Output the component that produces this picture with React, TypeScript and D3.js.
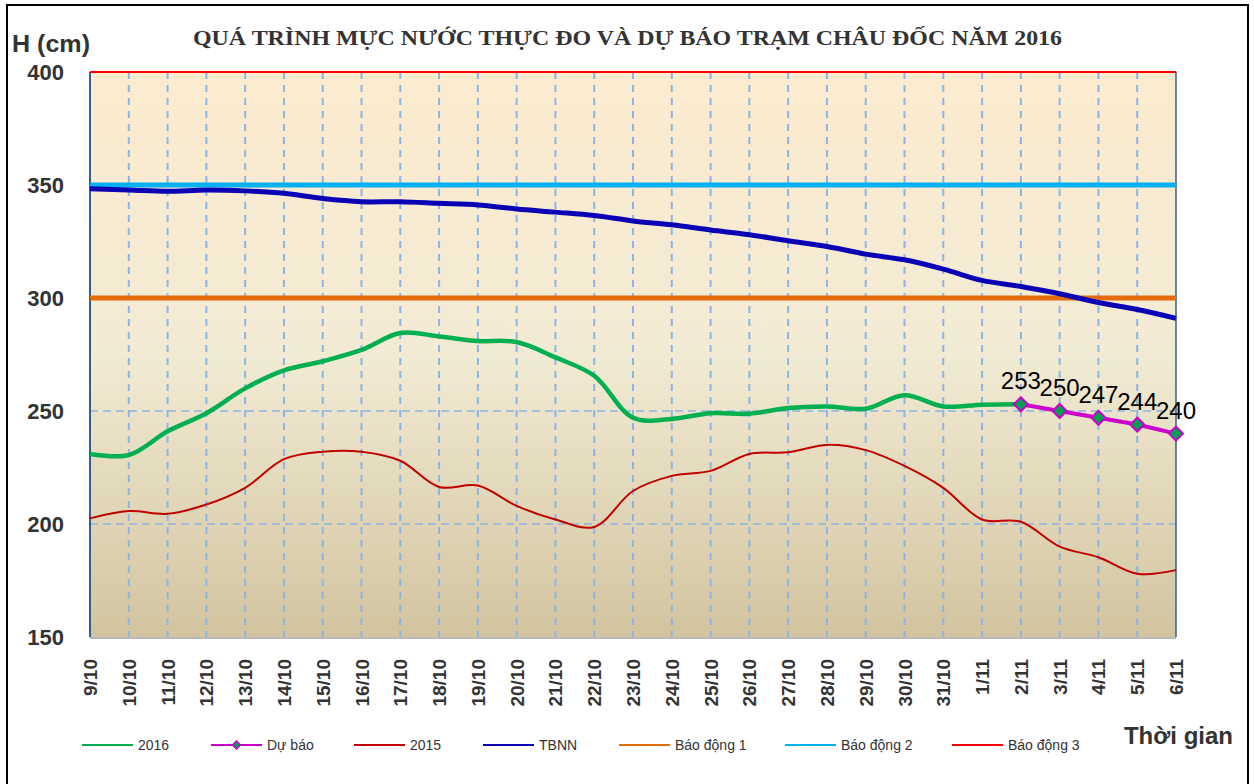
import React from "react";
import * as d3 from "d3";

const categories = ["9/10","10/10","11/10","12/10","13/10","14/10","15/10","16/10","17/10","18/10","19/10","20/10","21/10","22/10","23/10","24/10","25/10","26/10","27/10","28/10","29/10","30/10","31/10","1/11","2/11","3/11","4/11","5/11","6/11"];

const series2016: (number | null)[] = [231,230.5,241,249,260,268,272,277,284.5,283,281,280.5,273.7,265.6,247,246.5,249,248.8,251.3,252,251,257,252,252.8,253,null,null,null,null];
const forecast: (number | null)[] = [null,null,null,null,null,null,null,null,null,null,null,null,null,null,null,null,null,null,null,null,null,null,null,null,253,250,247,244,240];
const series2015: number[] = [202.5,205.7,204.5,208.6,216,228.7,232,232,228,216.4,217,208,202,198.7,214.6,221.3,223.5,231,231.7,235,232.7,225.7,216,202,201,190,185.3,178,179.6];
const tbnn: number[] = [348.3,347.8,347.2,347.8,347.4,346.3,344,342.6,342.6,341.9,341.2,339.4,338,336.5,334.1,332.4,330.1,328,325.3,322.8,319.4,316.9,312.8,307.8,305.1,301.9,298,294.9,291];
const alarm1 = 300;
const alarm2 = 350;
const alarm3 = 400;
const yTicks = [150, 200, 250, 300, 350, 400];

const legendItems = [
  { label: "2016", color: "#00B050", marker: false },
  { label: "Dự báo", color: "#CC00CC", marker: true },
  { label: "2015", color: "#C00000", marker: false },
  { label: "TBNN", color: "#0A00B4", marker: false },
  { label: "Báo động 1", color: "#E46C0A", marker: false },
  { label: "Báo động 2", color: "#00B0F0", marker: false },
  { label: "Báo động 3", color: "#FF0000", marker: false },
];

const W = 1254, H = 784;
const L = 90, R = 1176, T = 72, B = 637;

export default function App() {
  const x = d3.scalePoint<string>().domain(categories).range([L, R]);
  const y = d3.scaleLinear().domain([150, 400]).range([B, T]);

  const mk = (vals: (number | null)[]) =>
    d3.line<number | null>()
      .defined((d) => d != null)
      .x((_, i) => x(categories[i])!)
      .y((d) => y(d as number))
      .curve(d3.curveCatmullRom.alpha(0.5))(vals) || "";

  const straight = (vals: (number | null)[]) =>
    d3.line<number | null>()
      .defined((d) => d != null)
      .x((_, i) => x(categories[i])!)
      .y((d) => y(d as number))(vals) || "";

  const legendX = [82, 211, 354, 483, 619, 785, 952];
  const legendY = 745;
  const sans = "'Liberation Sans', Arial, sans-serif";
  const diamond = (cx: number, cy: number, r: number) =>
    `M${cx},${cy - r}L${cx + r},${cy}L${cx},${cy + r}L${cx - r},${cy}Z`;

  return (
    <svg width={W} height={H} style={{ position: "absolute", left: 0, top: 0, background: "#fff" }}>
      <defs>
        <linearGradient id="bg" x1="0" y1="0" x2="0" y2="1">
          <stop offset="0" stopColor="#FCEBCF" />
          <stop offset="0.5" stopColor="#F2EBD4" />
          <stop offset="1" stopColor="#D2C49F" />
        </linearGradient>
      </defs>
      <rect x={7} y={5} width={1241} height={790} fill="none" stroke="#000" strokeWidth={2} />
      <rect x={L} y={T} width={R - L} height={B - T} fill="url(#bg)" />

      {/* grid */}
      {categories.slice(1, -1).map((c) => (
        <line key={c} x1={x(c)} x2={x(c)} y1={T} y2={B} stroke="#8DB4E2" strokeWidth={2} strokeDasharray="7,6" />
      ))}
      {yTicks.slice(1, -1).map((t) => (
        <line key={t} x1={L} x2={R} y1={y(t)} y2={y(t)} stroke="#8DB4E2" strokeWidth={1.5} strokeDasharray="8,5" />
      ))}

      {/* axes frame */}
      <line x1={L} x2={L} y1={T} y2={B} stroke="#385D8A" strokeWidth={2} />
      <line x1={R} x2={R} y1={T} y2={B} stroke="#385D8A" strokeWidth={1.5} />
      <line x1={L} x2={R} y1={B + 1} y2={B + 1} stroke="#A0A0A0" strokeWidth={1.5} />

      {/* alarm lines */}
      <line x1={L} x2={R} y1={y(alarm3)} y2={y(alarm3)} stroke="#FF0000" strokeWidth={2} />
      <line x1={L} x2={R} y1={y(alarm2)} y2={y(alarm2)} stroke="#00B0F0" strokeWidth={5} />
      <line x1={L} x2={R} y1={y(alarm1)} y2={y(alarm1)} stroke="#E46C0A" strokeWidth={5} />

      {/* series */}
      <path d={mk(tbnn)} fill="none" stroke="#0A00B4" strokeWidth={5} />
      <path d={mk(series2015)} fill="none" stroke="#C00000" strokeWidth={2} />
      <path d={mk(series2016)} fill="none" stroke="#00B050" strokeWidth={4.5} />
      <path d={straight(forecast)} fill="none" stroke="#CC00CC" strokeWidth={4} />
      {forecast.map((v, i) =>
        v == null ? null : (
          <g key={i}>
            <path d={diamond(x(categories[i])!, y(v), 7)} fill="#00A050" stroke="#CC00CC" strokeWidth={2} />
            <text x={x(categories[i])!} y={y(v) - 15} textAnchor="middle" fontFamily={sans} fontSize={24} fill="#000">{v}</text>
          </g>
        )
      )}

      {/* y labels */}
      {yTicks.map((t) => (
        <text key={t} x={64} y={y(t) + 8} textAnchor="end" fontFamily={sans} fontWeight="bold" fontSize={22} fill="#333">{t}</text>
      ))}
      <text x={12} y={52} fontFamily={sans} fontWeight="bold" fontSize={23} fill="#333" textLength={78} lengthAdjust="spacingAndGlyphs">H (cm)</text>

      {/* title */}
      <text x={193} y={45} textLength={869} lengthAdjust="spacingAndGlyphs" fontFamily="'Liberation Serif', 'Times New Roman', serif" fontWeight="bold" fontSize={21} fill="#333">QUÁ TRÌNH MỰC NƯỚC THỰC ĐO VÀ DỰ BÁO TRẠM CHÂU ĐỐC  NĂM 2016</text>

      {/* x labels */}
      {categories.map((c) => (
        <text key={c} transform={`translate(${x(c)! + 7},659) rotate(-90)`} textAnchor="end" fontFamily={sans} fontWeight="bold" fontSize={19} fill="#333">{c}</text>
      ))}
      <text x={1233} y={744} textAnchor="end" fontFamily={sans} fontWeight="bold" fontSize={24} fill="#333">Thời gian</text>

      {/* legend */}
      {legendItems.map((it, i) => (
        <g key={it.label}>
          <line x1={legendX[i]} x2={legendX[i] + 51} y1={legendY} y2={legendY} stroke={it.color} strokeWidth={2} />
          {it.marker && <path d={diamond(legendX[i] + 25.5, legendY, 4)} fill="#00A050" stroke="#CC00CC" strokeWidth={1.5} />}
          <text x={legendX[i] + 56} y={legendY + 5} fontFamily={sans} fontSize={14} fill="#333">{it.label}</text>
        </g>
      ))}
    </svg>
  );
}
